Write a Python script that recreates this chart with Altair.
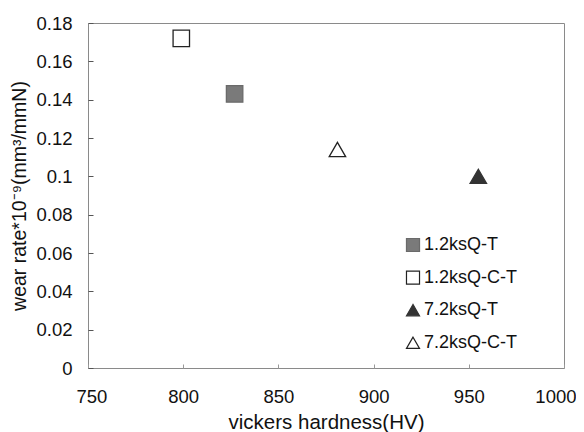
import altair as alt
import pandas as pd

series = ["1.2ksQ-T", "1.2ksQ-C-T", "7.2ksQ-T", "7.2ksQ-C-T"]
hardness = [827, 799, 955, 881]
wear = [0.143, 0.172, 0.100, 0.114]

shapes = ["square", "square", "triangle-up", "triangle-up"]
fills = ["#7a7a7a", "#ffffff", "#333333", "#ffffff"]
strokes = ["#6a6a6a", "#222222", "#333333", "#222222"]

x_ticks = [750, 800, 850, 900, 950, 1000]
y_ticks = [0, 0.02, 0.04, 0.06, 0.08, 0.1, 0.12, 0.14, 0.16, 0.18]

df = pd.DataFrame({"series": series, "hardness": hardness, "wear": wear})

font = "Liberation Sans"

chart = alt.Chart(df).mark_point(filled=False, size=270, strokeWidth=1.3, opacity=1).encode(
    x=alt.X("hardness:Q",
            scale=alt.Scale(domain=[750, 1000], nice=False, zero=False),
            axis=alt.Axis(values=x_ticks, format="d", title="vickers hardness(HV)", grid=False,
                          domain=False, offset=-4, tickSize=4, tickColor="#999999",
                          labelFlush=True, labelFlushOffset=12, labelOverlap=False,
                          labelPadding=19, labelFontSize=18.5, titleFontSize=20.5,
                          titlePadding=7, labelFont=font, titleFont=font,
                          labelColor="#111111", titleColor="#111111",
                          titleFontWeight="normal")),
    y=alt.Y("wear:Q",
            scale=alt.Scale(domain=[0, 0.18], nice=False),
            axis=alt.Axis(values=y_ticks, format="~f", title="wear rate*10⁻⁹(mm³/mmN)",
                          grid=False, domain=False, offset=-5, tickSize=5,
                          labelFlush=False, labelOverlap=False,
                          tickColor="#555555", labelPadding=16, labelFontSize=18.5,
                          titleFontSize=19.5, titlePadding=6, labelFont=font,
                          titleFont=font, labelColor="#111111", titleColor="#111111",
                          titleFontWeight="normal")),
    shape=alt.Shape("series:N", scale=alt.Scale(domain=series, range=shapes), title=None),
    fill=alt.Fill("series:N", scale=alt.Scale(domain=series, range=fills), title=None),
    stroke=alt.Stroke("series:N", scale=alt.Scale(domain=series, range=strokes), title=None),
).properties(
    width=476, height=345,
    autosize=alt.AutoSizeParams(type="none"),
    padding={"left": 80, "top": 15, "right": 12, "bottom": 72},
).configure_view(
    stroke="#8a8a8a", strokeWidth=1
).configure_legend(
    orient="none", legendX=316, legendY=213,
    symbolSize=170, symbolStrokeWidth=1.2, labelFontSize=18, labelFont=font,
    labelColor="#111111", rowPadding=14.6, labelOffset=2, symbolOpacity=1
)

chart.save("out.html", embed_options={"renderer": "svg", "actions": False})
